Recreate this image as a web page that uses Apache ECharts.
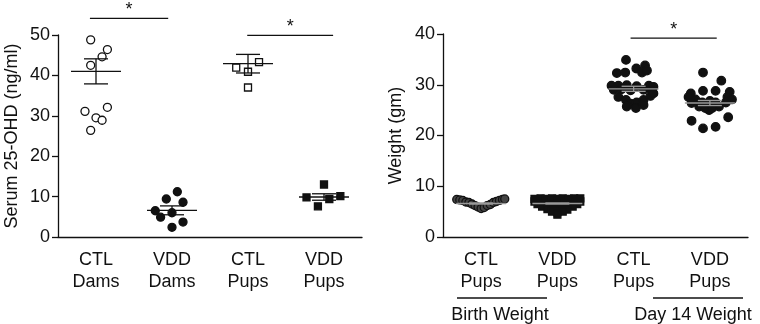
<!DOCTYPE html>
<html>
<head>
<meta charset="utf-8">
<script src="https://cdn.jsdelivr.net/npm/echarts@6/dist/echarts.min.js"></script>
<style>
    html, body { margin: 0; padding: 0; background: #fff; }
    #chart { width: 760px; height: 324px; }
</style>
</head>
<body>
<div id="chart"></div>
<script>
// category labels
const serumCats = ['CTL\nDams', 'VDD\nDams', 'CTL\nPups', 'VDD\nPups']
const weightCats = ['CTL\nPups', 'VDD\nPups', 'CTL\nPups', 'VDD\nPups']
const serumTicks = [0, 50, 10]
const weightTicks = [0, 40, 10]

// serum 25-OHD (ng/ml), each point = [horizontal jitter, value]
const ctlDams = [[-0.07, 48.8], [0.15, 46.4], [0.08, 44.6], [-0.07, 42.5], [-0.145, 31.1], [0.15, 32.1], [0.0, 29.5], [0.08, 28.9], [-0.07, 26.4]]
const vddDams = [[0.07, 11.2], [-0.075, 9.4], [0.145, 8.6], [-0.22, 6.5], [0.0, 6.0], [-0.15, 4.9], [0.145, 3.7], [0.0, 2.4]]
const ctlPupsSerum = [[0.145, 43.3], [-0.155, 41.9], [0.0, 40.9], [0.0, 37.0]]
const vddPupsSerum = [[0.0, 13.0], [-0.23, 9.8], [0.215, 10.1], [0.07, 9.4], [-0.08, 7.6]]
const serumMean = [41.0, 6.6, 42.9, 9.9]
const serumSem = [3.1, 1.1, 2.3, 0.8]

// weight (gm)
const ctlBirth = [[-0.32, 7.4], [-0.28, 7.3], [-0.24, 7.2], [-0.2, 6.9], [-0.16, 6.8], [-0.12, 6.5], [-0.08, 6.2], [-0.04, 5.9], [0.0, 5.6],
    [0.04, 5.8], [0.08, 6.2], [0.12, 6.4], [0.16, 6.8], [0.2, 7.0], [0.24, 7.2], [0.28, 7.4], [0.31, 7.5]]
const vddBirth = [[-0.3, 7.5], [-0.22, 7.6], [-0.15, 7.5], [-0.07, 7.6], [0.0, 7.5], [0.07, 7.6], [0.15, 7.5], [0.22, 7.6], [0.3, 7.6],
    [-0.3, 7.0], [-0.22, 7.0], [-0.15, 7.0], [-0.07, 7.1], [0.0, 7.0], [0.07, 7.0], [0.15, 7.1], [0.22, 7.0], [0.3, 7.0],
    [-0.26, 6.5], [-0.18, 6.5], [-0.1, 6.4], [0.0, 6.5], [0.1, 6.5], [0.18, 6.4], [0.26, 6.5],
    [-0.2, 6.0], [-0.1, 6.0], [0.0, 5.9], [0.1, 6.0], [0.2, 6.0],
    [-0.13, 5.5], [-0.05, 5.4], [0.05, 5.5], [0.13, 5.4],
    [-0.07, 5.0], [0.0, 4.9], [0.07, 5.0], [0.0, 4.4]]
const ctlDay14 = [[-0.1, 34.9], [0.15, 33.8], [-0.22, 32.3], [-0.11, 32.4], [0.035, 33.2], [0.11, 32.4], [0.175, 32.8],
    [-0.29, 29.8], [-0.2, 29.8], [-0.09, 29.9], [0.04, 29.7], [0.2, 29.8], [0.26, 29.6],
    [-0.26, 29.0], [-0.16, 29.1], [-0.04, 28.9], [0.13, 29.0], [0.24, 28.9],
    [-0.2, 27.6], [-0.1, 27.0], [-0.04, 26.3], [0.04, 26.5], [0.13, 27.0], [0.22, 27.8], [0.26, 28.3],
    [-0.09, 25.7], [0.03, 25.4], [0.13, 26.0]]
const vddDay14 = [[-0.09, 32.4], [0.15, 30.8], [-0.09, 28.8], [0.075, 28.8], [-0.25, 28.3], [0.26, 28.6],
    [-0.28, 27.6], [-0.19, 27.1], [0.23, 27.6], [0.29, 27.1], [0.0, 26.8],
    [-0.24, 26.4], [-0.1, 26.5], [0.075, 26.5], [0.21, 26.5],
    [-0.14, 25.7], [0.12, 25.7], [-0.01, 25.0], [-0.06, 25.4], [0.03, 25.4],
    [-0.24, 22.9], [0.24, 23.6], [-0.09, 21.4], [0.075, 21.7]]
const weightMean = [6.6, 6.6, 29.2, 26.4]
const weightSem = [0.1, 0.1, 0.5, 0.5]

// significance bars: [from, to, height]
const serumSig = [[-0.08, 0.95, 54.1], [1.99, 3.12, 49.9]]
const weightSig = [[1.96, 3.09, 39.2]]

const FONT = 'Liberation Sans'
const FS = 18

function place(points, idx) {
    return points.map(function(p) { return [idx + p[0], p[1]] })
}

function meanSeries(xi, yi, means, sems, color) {
    return {
        type: 'custom',
        xAxisIndex: xi,
        yAxisIndex: yi,
        z: 5,
        clip: false,
        data: means.map(function(m, i) { return [i, m, sems[i]] }),
        renderItem: function(params, api) {
            const x = api.value(0), m = api.value(1), s = api.value(2)
            const c = api.coord([x, m])
            const hi = api.coord([x, m + s])
            const lo = api.coord([x, m - s])
            const st = { stroke: color, lineWidth: 1.3 }
            return {
                type: 'group',
                children: [
                    { type: 'line', shape: { x1: c[0] - 25, y1: c[1], x2: c[0] + 25, y2: c[1] }, style: st },
                    { type: 'line', shape: { x1: c[0], y1: hi[1], x2: c[0], y2: lo[1] }, style: st },
                    { type: 'line', shape: { x1: c[0] - 12, y1: hi[1], x2: c[0] + 12, y2: hi[1] }, style: st },
                    { type: 'line', shape: { x1: c[0] - 12, y1: lo[1], x2: c[0] + 12, y2: lo[1] }, style: st }
                ]
            }
        }
    }
}

function sigSeries(xi, yi, bars) {
    return {
        type: 'custom',
        xAxisIndex: xi,
        yAxisIndex: yi,
        clip: false,
        data: bars,
        renderItem: function(params, api) {
            const a = api.coord([api.value(0), api.value(2)])
            const b = api.coord([api.value(1), api.value(2)])
            return {
                type: 'group',
                children: [
                    { type: 'line', shape: { x1: a[0], y1: a[1], x2: b[0], y2: b[1] }, style: { stroke: '#111', lineWidth: 1.3 } },
                    { type: 'text', style: { text: '*', x: (a[0] + b[0]) / 2, y: a[1] + 1, textAlign: 'center', textVerticalAlign: 'bottom', font: FS + 'px ' + FONT, fill: '#111' } }
                ]
            }
        }
    }
}

function catAxis(grid, cats) {
    return {
        type: 'category',
        gridIndex: grid,
        data: cats,
        axisLine: { lineStyle: { color: '#111', width: 1.3 } },
        axisTick: { alignWithLabel: true, length: 6, lineStyle: { color: '#111', width: 1.3 } },
        axisLabel: { color: '#111', fontFamily: FONT, fontSize: FS, lineHeight: 22, margin: 12 },
        splitLine: { show: false }
    }
}

function valXAxis(grid) {
    return { type: 'value', gridIndex: grid, min: -0.5, max: 3.5, show: false }
}

function valYAxis(grid, ticks, name, gap) {
    return {
        type: 'value',
        gridIndex: grid,
        min: ticks[0],
        max: ticks[1],
        interval: ticks[2],
        name: name,
        nameLocation: 'middle',
        nameGap: gap,
        nameTextStyle: { color: '#111', fontFamily: FONT, fontSize: FS },
        axisLine: { show: true, onZero: false, lineStyle: { color: '#111', width: 1.3 } },
        axisTick: { show: true, length: 6, lineStyle: { color: '#111', width: 1.3 } },
        axisLabel: { color: '#111', fontFamily: FONT, fontSize: FS, margin: 8 },
        splitLine: { show: false }
    }
}

function dots(xi, yi, data, symbol, size, fill, border) {
    return {
        type: 'scatter',
        xAxisIndex: xi,
        yAxisIndex: yi,
        data: data,
        symbol: symbol,
        symbolSize: size,
        itemStyle: { color: fill, borderColor: border, borderWidth: 1.3, opacity: 1 },
        emphasis: { disabled: true }
    }
}

let option = {
    animation: false,
    backgroundColor: '#fff',
    grid: [
        { left: 58, top: 35, width: 304, bottom: 87 },
        { left: 443, top: 34, width: 305, bottom: 87 }
    ],
    xAxis: [catAxis(0, serumCats), valXAxis(0), catAxis(1, weightCats), valXAxis(1)],
    yAxis: [valYAxis(0, serumTicks, 'Serum 25-OHD (ng/ml)', 37), valYAxis(1, weightTicks, 'Weight (gm)', 38)],
    series: [
        dots(1, 0, place(ctlDams, 0), 'circle', 8, '#fff', '#111'),
        dots(1, 0, place(vddDams, 1), 'circle', 8, '#111', '#111'),
        dots(1, 0, place(ctlPupsSerum, 2), 'rect', 7, '#fff', '#111'),
        dots(1, 0, place(vddPupsSerum, 3), 'rect', 7, '#111', '#111'),
        meanSeries(1, 0, serumMean, serumSem, '#111'),
        sigSeries(1, 0, serumSig),

        dots(3, 1, place(ctlBirth, 0), 'circle', 8, '#444', '#111'),
        dots(3, 1, place(vddBirth, 1), 'rect', 7, '#111', '#111'),
        dots(3, 1, place(ctlDay14, 2), 'circle', 8.5, '#111', '#111'),
        dots(3, 1, place(vddDay14, 3), 'circle', 8.5, '#111', '#111'),
        meanSeries(3, 1, weightMean, weightSem, '#999'),
        sigSeries(3, 1, weightSig)
    ],
    graphic: [
        { type: 'line', shape: { x1: 457, y1: 298, x2: 547, y2: 298 }, style: { stroke: '#111', lineWidth: 1.3 } },
        { type: 'text', x: 500, y: 315, style: { text: 'Birth Weight', textAlign: 'center', textVerticalAlign: 'middle', font: FS + 'px ' + FONT, fill: '#111' } },
        { type: 'line', shape: { x1: 653, y1: 298, x2: 743, y2: 298 }, style: { stroke: '#111', lineWidth: 1.3 } },
        { type: 'text', x: 693, y: 315, style: { text: 'Day 14 Weight', textAlign: 'center', textVerticalAlign: 'middle', font: FS + 'px ' + FONT, fill: '#111' } }
    ]
}

var myChart = echarts.init(document.getElementById('chart'))
myChart.setOption(option)
</script>
</body>
</html>
